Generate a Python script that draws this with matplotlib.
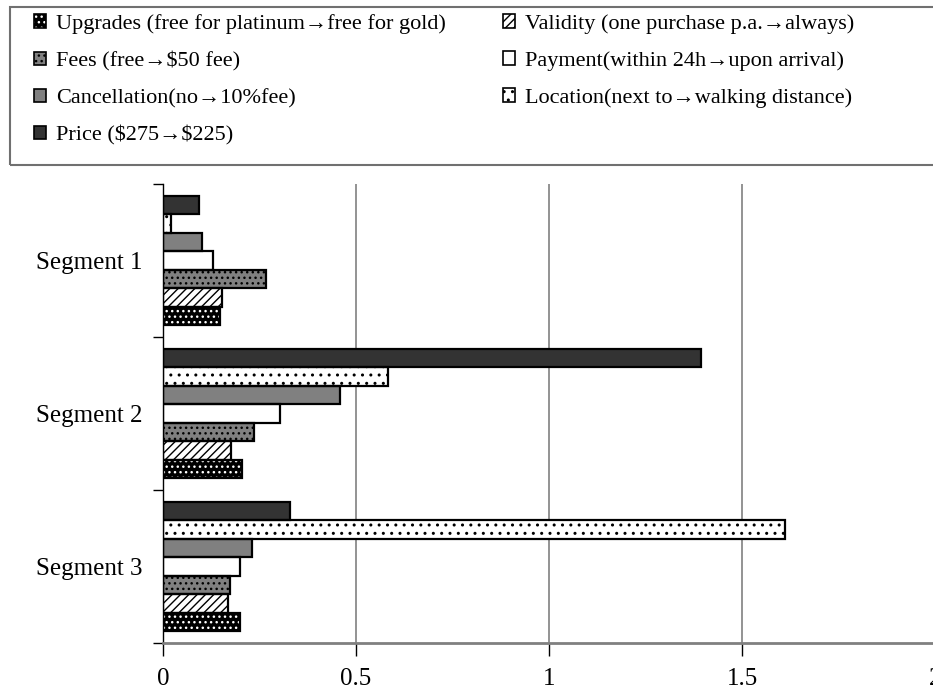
import numpy as np
import matplotlib
matplotlib.use('Agg')
import matplotlib.pyplot as plt
from matplotlib.patches import Patch, Rectangle
from matplotlib.legend_handler import HandlerTuple

plt.rcParams['font.family'] = ['Liberation Serif', 'DejaVu Serif']
plt.rcParams['hatch.linewidth'] = 1.0

segments = ['Segment 1', 'Segment 2', 'Segment 3']

# attribute importance per segment
upgrades = [0.148, 0.205, 0.200]
validity = [0.154, 0.177, 0.169]
fees = [0.267, 0.236, 0.174]
payment = [0.130, 0.304, 0.199]
cancellation = [0.100, 0.459, 0.231]
location = [0.022, 0.583, 1.612]
price = [0.092, 1.394, 0.330]

labels = ['Upgrades (free for platinum\u2192free for gold)',
          'Validity (one purchase p.a.\u2192always)',
          'Fees (free\u2192\\$50 fee)',
          'Payment(within 24h\u2192upon arrival)',
          'Cancellation(no\u219210%fee)',
          'Location(next to\u2192walking distance)',
          'Price (\\$275\u2192\\$225)']
series = [upgrades, validity, fees, payment, cancellation, location, price]

# face colour, hatch colour, hatch pattern
styles = [('black', 'white', '...'),
          ('white', 'black', '////'),
          ('#808080', 'black', '...'),
          ('white', 'black', ''),
          ('#808080', 'black', ''),
          ('white', 'black', '..'),
          ('#333333', 'black', '')]

fig = plt.figure(figsize=(9.33, 6.99), dpi=100)
ax = fig.add_axes([163/933, 56/699, 772/933, 459/699])

y = np.arange(len(segments))
h = 0.121
handles = []
for k, vals in enumerate(series):
    fc, hc, hatch = styles[k]
    pos = y + (3 - k) * h
    ax.barh(pos, vals, height=h, color=fc, edgecolor=hc, hatch=hatch, linewidth=0, zorder=2)
    ax.barh(pos, vals, height=h, fill=False, edgecolor='black', linewidth=1.6, zorder=3)
    handles.append((Patch(facecolor=fc, edgecolor=hc, hatch=hatch, linewidth=0),
                    Patch(fill=False, edgecolor='black', linewidth=1.2)))

ax.set_xlim(0, 2)
ax.set_ylim(2.5, -0.5)
ax.set_xticks([0, 0.5, 1, 1.5, 2])
ax.set_xticklabels(['0', '0.5', '1', '1.5', '2'], fontsize=18)
ax.set_yticks([-0.5, 0.5, 1.5, 2.5])
ax.set_yticklabels([])
ax.set_yticks(y, minor=True)
ax.set_yticklabels(segments, minor=True, fontsize=18)
ax.tick_params(axis='y', which='major', direction='out', length=7, width=1)
ax.tick_params(axis='y', which='minor', length=0, pad=15)
ax.tick_params(axis='x', direction='out', length=9, width=1, pad=9)
ax.grid(axis='x', color='#808080', linewidth=1.2, zorder=0)
ax.set_axisbelow(True)
for s in ['top', 'right']:
    ax.spines[s].set_visible(False)
ax.spines['bottom'].set_color('#808080')
ax.spines['bottom'].set_linewidth(2)
ax.spines['left'].set_linewidth(1)

# legend box across the top
fig.patches.append(Rectangle((10/933, 1 - 165/699), 0.995, 158/699, transform=fig.transFigure,
                             fill=False, edgecolor='#707070', linewidth=1.5))
order = [0, 2, 4, 6, 1, 3, 5]
fig.legend([handles[i] for i in order], [labels[i] for i in order],
           handler_map={tuple: HandlerTuple(ndivide=1)},
           ncol=2, loc='upper left', bbox_to_anchor=(34/933, 1 - 14/699),
           frameon=False, fontsize=16, borderpad=0, borderaxespad=0,
           handlelength=0.55, handleheight=0.55, handletextpad=0.45,
           labelspacing=0.78, columnspacing=2.55)

fig.savefig('out.png', dpi=100)
